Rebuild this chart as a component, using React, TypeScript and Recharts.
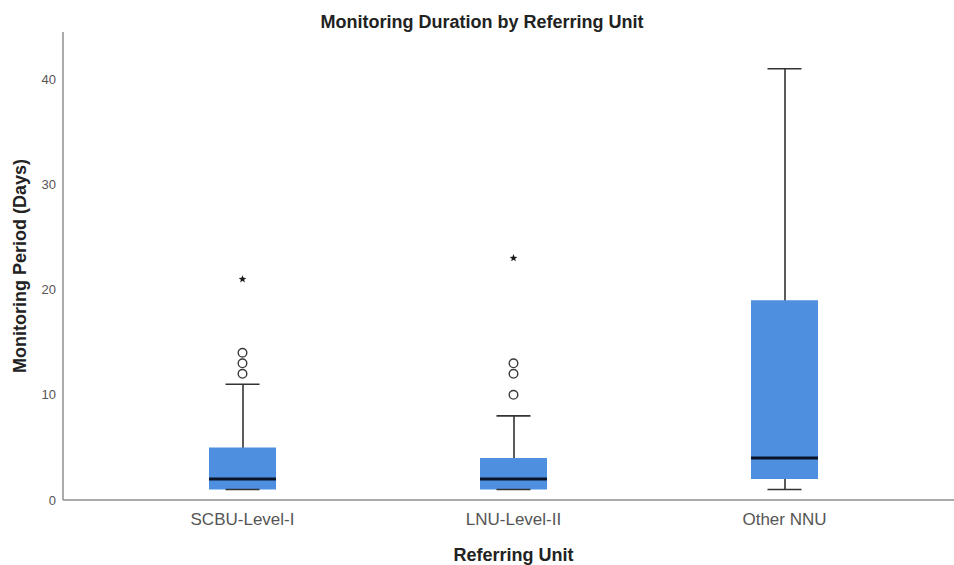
import React from 'react';
import { ComposedChart, Bar, Scatter, XAxis, YAxis } from 'recharts';

const FONT = '"Liberation Sans", Arial, Helvetica, sans-serif';

// Box-plot summary per referring unit (days)
const units = ['SCBU-Level-I', 'LNU-Level-II', 'Other NNU'];
const minimums = [1, 1, 1];
const lowerQuartiles = [1, 1, 2];
const medians = [2, 2, 4];
const upperQuartiles = [5, 4, 19];
const maximums = [11, 8, 41];
const yTicks = [0, 10, 20, 30, 40];

// Outliers (circles) and extreme values (stars)
const outlierUnits = ['SCBU-Level-I', 'SCBU-Level-I', 'SCBU-Level-I', 'LNU-Level-II', 'LNU-Level-II', 'LNU-Level-II'];
const outlierValues = [12, 13, 14, 10, 12, 13];
const extremeUnits = ['SCBU-Level-I', 'LNU-Level-II'];
const extremeValues = [21, 23];

const rows = units.map((unit, i) => ({
  unit,
  whisker: [minimums[i], maximums[i]],
  box: [lowerQuartiles[i], upperQuartiles[i]],
  low: minimums[i],
  median: medians[i],
  high: maximums[i],
}));

const outliers = outlierUnits.map((unit, i) => ({ unit, value: outlierValues[i] }));
const extremes = extremeUnits.map((unit, i) => ({ unit, value: extremeValues[i] }));

const BOX_WIDTH = 67;
const CAP_WIDTH = 34;
const LINE = '#333333';

const WhiskerShape = (p: any) => {
  const top = Math.min(p.y, p.y + p.height);
  const bottom = Math.max(p.y, p.y + p.height);
  const cx = p.x + p.width / 2;
  return <line x1={cx} x2={cx} y1={top} y2={bottom} stroke={LINE} strokeWidth={1.6} />;
};

const CapShape = (p: any) => (
  <line x1={p.cx - CAP_WIDTH / 2} x2={p.cx + CAP_WIDTH / 2} y1={p.cy} y2={p.cy} stroke={LINE} strokeWidth={1.6} />
);

const MedianShape = (p: any) => (
  <line x1={p.cx - BOX_WIDTH / 2} x2={p.cx + BOX_WIDTH / 2} y1={p.cy} y2={p.cy} stroke="#0a1428" strokeWidth={3} />
);

const CircleShape = (p: any) => (
  <circle cx={p.cx} cy={p.cy} r={4.3} fill="#ffffff" stroke="#3a3a3a" strokeWidth={1.4} />
);

const StarShape = (p: any) => {
  const pts: string[] = [];
  for (let k = 0; k < 10; k++) {
    const r = k % 2 === 0 ? 4 : 1.7;
    const a = -Math.PI / 2 + (k * Math.PI) / 5;
    pts.push(`${p.cx + r * Math.cos(a)},${p.cy + r * Math.sin(a)}`);
  }
  return <polygon points={pts.join(' ')} fill="#1a1a1a" />;
};

export default function App() {
  return (
    <div style={{ position: 'absolute', left: 0, top: 0, width: 954, height: 565, background: '#ffffff' }}>
      <svg width={954} height={40} style={{ position: 'absolute', left: 0, top: 0 }}>
        <text x={482} y={28} textAnchor="middle" fontFamily={FONT} fontWeight="bold" fontSize={18} fill="#222">
          Monitoring Duration by Referring Unit
        </text>
      </svg>
      <div style={{ position: 'absolute', left: 0, top: 0 }}>
        <ComposedChart width={954} height={565} data={rows} margin={{ top: 32, right: 0, bottom: 0, left: 0 }}>
          <XAxis
            xAxisId="a"
            dataKey="unit"
            type="category"
            allowDuplicatedCategory={false}
            padding={{ left: 44, right: 34 }}
            axisLine={{ stroke: '#8f8f8f', strokeWidth: 1.5 }}
            tickLine={false}
            tickMargin={7}
            interval={0}
            height={65}
            tick={{ fontSize: 17, fill: '#555555', fontFamily: FONT }}
            label={{
              value: 'Referring Unit',
              position: 'insideBottom',
              offset: 4,
              dx: 5,
              style: { fontSize: 18, fontWeight: 'bold', fill: '#222', fontFamily: FONT },
            }}
          />
          <XAxis
            xAxisId="b"
            dataKey="unit"
            type="category"
            allowDuplicatedCategory={false}
            padding={{ left: 44, right: 34 }}
            hide
          />
          <YAxis
            type="number"
            domain={[0, 44.5]}
            ticks={yTicks}
            width={63}
            axisLine={{ stroke: '#8f8f8f', strokeWidth: 1.5 }}
            tickLine={false}
            tickMargin={1}
            tick={{ fontSize: 13, fill: '#555555', fontFamily: FONT }}
            label={{
              value: 'Monitoring Period (Days)',
              angle: -90,
              position: 'insideLeft',
              offset: 20,
              style: { textAnchor: 'middle', fontSize: 18, fontWeight: 'bold', fill: '#222', fontFamily: FONT },
            }}
          />
          <Bar xAxisId="a" dataKey="whisker" barSize={2} shape={WhiskerShape} isAnimationActive={false} />
          <Bar xAxisId="b" dataKey="box" barSize={BOX_WIDTH} fill="#4f8fe0" isAnimationActive={false} />
          <Scatter xAxisId="a" dataKey="median" shape={MedianShape} isAnimationActive={false} />
          <Scatter xAxisId="a" dataKey="low" shape={CapShape} isAnimationActive={false} />
          <Scatter xAxisId="a" dataKey="high" shape={CapShape} isAnimationActive={false} />
          <Scatter xAxisId="a" data={outliers} dataKey="value" shape={CircleShape} isAnimationActive={false} />
          <Scatter xAxisId="a" data={extremes} dataKey="value" shape={StarShape} isAnimationActive={false} />
        </ComposedChart>
      </div>
    </div>
  );
}
